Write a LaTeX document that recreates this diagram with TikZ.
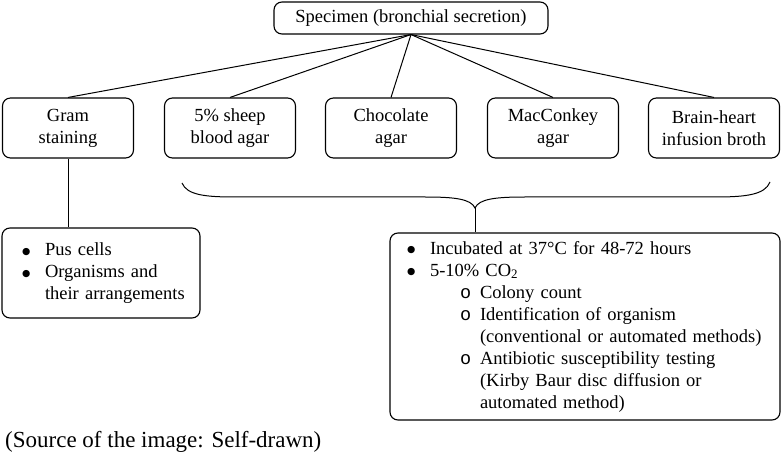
\documentclass[tikz,border=0pt]{standalone}
\usepackage{fontspec}
\setmainfont{Liberation Serif}
\setmonofont{Liberation Mono}
\newfontfamily\symbolfont{DejaVu Sans}
\usepackage{tikz}

\newcommand{\dotline}[1]{\mbox{\makebox[23pt][l]{\raisebox{1.2pt}{\symbolfont\fontsize{9.5}{10}\selectfont ●}}#1}}
\newcommand{\ringline}[1]{\mbox{\hspace*{53pt}\makebox[20pt][l]{\texttt{o}}#1}}
\newcommand{\moreline}[2]{\mbox{\hspace*{#1}#2}}

\begin{document}
\begin{tikzpicture}[x=1pt, y=-1pt,
  box/.style={draw, line width=1.1pt, rounded corners=8pt, inner sep=0pt,
    font=\fontsize{18.5}{22}\selectfont},
  mediumbox/.style={box, minimum width=131pt, minimum height=60pt, align=center},
  link/.style={line width=1pt}]
\useasboundingbox (0,0) rectangle (782,454);
%
\node [box, minimum width=274pt, minimum height=32pt] (spec) at (411,18) {Specimen (bronchial secretion)};
%
\node [mediumbox] (gram)  at (68,128)  {Gram\\staining};
\node [mediumbox] (sheep) at (230,128) {5\% sheep\\blood agar};
\node [mediumbox] (choc)  at (391,128) {Chocolate\\agar};
\node [mediumbox] (macc)  at (553,128) {MacConkey\\agar};
\node [mediumbox] (bhi)   at (714,128) {Brain-heart\\infusion broth};
%
\draw [link] (spec.south) -- (gram.north);
\draw [link] (spec.south) -- (sheep.north);
\draw [link] (spec.south) -- (choc.north);
\draw [link] (spec.south) -- (macc.north);
\draw [link] (spec.south) -- (bhi.north);
%
\node [box, align=left, text width=158pt, inner xsep=20pt, minimum height=90pt] (smear) at (101,273)
  {\dotline{Pus cells}\\\dotline{Organisms and}\\\moreline{23pt}{their arrangements}};
\draw [link] (gram.south) -- (gram.south |- smear.north);
%
\coordinate (braceL) at (182,183);
\coordinate (braceR) at (770,182);
\coordinate (bracetip) at (475,208);
\draw [link] (braceL) .. controls (187,195) and (205,197) .. (235,197) -- (425,197)
  .. controls (455,197) and (471,199) .. (bracetip)
  .. controls (479,199) and (495,197) .. (525,197) -- (715,197)
  .. controls (745,197) and (765,195) .. (braceR);
%
\node [box, align=left, text width=356pt, inner xsep=17pt, minimum height=187pt] (culture) at (585,326.5)
  {\dotline{Incubated at 37°C for 48-72 hours}\\
   \dotline{5-10\% CO\textsubscript{2}}\\
   \ringline{Colony count}\\
   \ringline{Identification of organism}\\
   \moreline{73pt}{(conventional or automated methods)}\\
   \ringline{Antibiotic susceptibility testing}\\
   \moreline{73pt}{(Kirby Baur disc diffusion or}\\
   \moreline{73pt}{automated method)}};
\draw [link] (bracetip) -- (bracetip |- culture.north);
%
\node [anchor=base west, inner sep=0pt, font=\fontsize{23}{26}\selectfont] (source) at (5,447) {(Source of the image: Self-drawn)};
\end{tikzpicture}
\end{document}
